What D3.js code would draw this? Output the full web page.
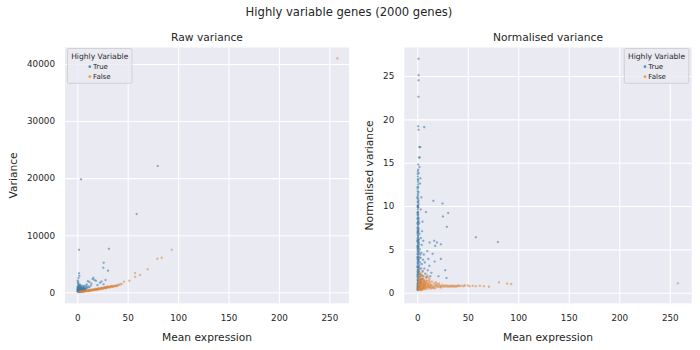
<!DOCTYPE html>
<html>
<head>
<meta charset="utf-8">
<script src="https://cdn.jsdelivr.net/npm/d3@7"></script>
<style>
  html, body { margin: 0; padding: 0; background: #ffffff; }
  svg { display: block; font-family: "DejaVu Sans", sans-serif; }
</style>
</head>
<body>
<svg id="chart" width="700" height="350"></svg>
<script>
// ---------------- DATA ----------------
const chartTitle = "Highly variable genes (2000 genes)";
const panelTitles = ["Raw variance", "Normalised variance"];
const xLabel = "Mean expression";
const yLabels = ["Variance", "Normalised variance"];
const legendTitle = "Highly Variable";
const legendLabels = ["True", "False"];
const seriesColors = ["#1f77b4", "#ff7f0e"];

const xTicks = [0, 50, 100, 150, 200, 250];
const yTicksRaw = [0, 10000, 20000, 30000, 40000];
const yTicksNorm = [0, 5, 10, 15, 20, 25];

// Raw variance, highly variable genes: [mean expression, variance]
const rawTrue = [
  [0.3,180],[0.5,250],[0.8,320],[1.0,210],[1.2,400],[1.5,290],[1.8,520],[2.0,350],[2.2,180],[2.5,610],
  [2.8,260],[3.0,430],[3.3,720],[3.5,310],[3.8,540],[4.0,200],[4.3,380],[4.6,650],[5.0,290],[5.3,470],
  [5.6,820],[6.0,350],[6.4,560],[6.8,260],[7.2,430],[7.6,700],[8.0,380],[0.4,560],[0.7,800],[0.9,1100],
  [1.1,1350],[0.6,1600],[1.3,950],[1.6,700],[2.1,880],[2.4,1050],[2.9,950],[3.6,880],[4.4,1000],[5.1,1150],
  [0.2,430],[0.3,700],[1.4,160],[1.9,230],[2.6,420],[3.1,180],[3.9,290],[4.8,450],[5.8,600],[6.6,780],
  [7.4,520],[8.5,640],[9.2,900],[10.0,760],[11.0,1020],[12.0,880],[13.5,1200],[9.5,1350],[0.5,120],[1.0,90],
  [1.6,140],[2.3,110],[3.4,130],[4.5,150],[5.5,170],[0.8,480],[1.7,380],[2.7,820],[3.2,560],[4.1,720],
  [6.2,900],[7.0,1050],[8.2,1180],[0.4,2050],[1.2,2500],[2.0,2900],[0.9,1850],
  [0.6,300],[1.3,600],[2.4,240],[3.7,470],[5.4,380],[6.9,620],[0.3,950],[1.5,1200],[2.2,1400],[3.0,1250],
  [15.2,2330],[17.0,2150],[18.5,2030],[22.5,1680],[28.0,2150],[24.0,1900],[20.0,1250],[14.0,1550],[12.0,1800],[26.0,1400],
  [16.0,2550],[10.5,1950],
  [30.5,3790],[25.8,4310],[26.2,5190],[31.4,7640],[1.7,7460],[1.7,3330],[3.7,19790],[58.9,13710],[79.8,22120]
];

// Raw variance, other genes: [mean expression, variance]
const rawFalse = [
  [1.5,40],[2.5,90],[3.2,70],[4.1,130],[5.0,120],[5.8,180],[6.5,150],[7.3,230],[8.0,200],[8.8,260],
  [9.5,240],[10.3,300],[11.0,270],[11.8,340],[12.5,310],[13.2,380],[14.0,360],[14.8,420],[15.5,400],[16.3,470],
  [17.0,440],[17.8,510],[18.5,480],[19.3,560],[20.0,530],[20.8,600],[21.5,580],[22.3,650],[23.0,620],[23.8,700],
  [24.5,670],[25.3,740],[26.0,720],[26.8,800],[27.5,770],[28.3,860],[29.0,830],[29.8,910],[30.5,880],[31.3,960],
  [32.0,940],[33.0,1020],[34.0,990],[35.0,1080],[36.0,1060],[37.0,1150],[38.0,1120],[39.5,1220],[41.0,1300],[42.5,1380],
  [44.0,1450],[3.5,160],[6.0,250],[9.0,330],[12.0,420],[15.0,500],[18.0,600],[21.0,700],[24.0,790],[27.0,900],
  [30.0,1000],[33.5,1120],[10.0,200],[14.0,280],[19.0,420],[23.0,540],[28.0,700],[32.5,850],[7.0,120],[11.5,230],
  [16.5,350],[20.5,470],[25.5,610],[29.5,760],[35.5,950],[38.5,1050],[40.0,1180],
  [46.3,1860],[51.6,2030],[57.5,2730],[62.2,3030],[57.2,3380],[69.8,4030],[79.4,5880],[83.7,6060],[93.6,7460],[258.0,40980]
];

// Normalised variance, highly variable genes: [mean expression, normalised variance]
const normTrue = [
  [0.2,0.4],[0.5,0.6],[0.8,0.9],[1.1,1.2],[0.3,1.5],[0.9,1.8],[1.4,2.1],[0.4,2.4],[1.0,2.7],[1.7,3.0],
  [0.6,3.3],[1.2,3.6],[0.3,3.9],[0.9,4.2],[1.5,4.5],[0.5,4.8],[1.1,5.1],[0.2,5.4],[0.8,5.7],[1.3,6.0],
  [0.4,6.3],[1.0,6.6],[0.6,6.9],[1.2,7.2],[0.3,7.5],[0.9,7.8],[0.5,8.1],[1.1,8.4],[0.7,8.7],[0.4,9.0],
  [1.0,9.3],[0.6,9.6],[0.8,9.9],[1.3,10.2],[0.5,10.5],[0.9,10.8],[0.7,11.2],[1.2,11.6],[0.4,12.0],[0.8,12.5],
  [1.0,13.0],[0.6,13.4],[1.4,13.8],[0.9,14.2],
  [1.8,0.8],[2.2,1.0],[2.6,1.3],[1.6,1.6],[2.0,1.9],[2.8,2.2],[1.9,2.5],[2.4,2.8],[3.1,1.1],[3.4,1.5],
  [2.1,3.2],[2.7,3.5],[1.6,3.8],[2.3,4.1],[3.0,4.4],[1.8,4.7],[2.5,5.0],[1.5,5.3],[2.0,5.6],[1.7,6.2],
  [2.2,6.8],[1.6,7.4],[1.9,8.0],[1.5,8.6],[0.2,1.0],[0.3,2.0],[0.2,3.0],[0.25,4.1],[0.3,5.0],[0.2,6.0],
  [0.3,7.0],[0.2,8.0],[0.25,9.2],[0.3,10.0],[0.2,11.0],[0.3,12.2],[0.7,0.5],[1.3,0.7],[0.5,1.3],[1.0,1.6],
  [0.7,2.2],[1.2,2.4],[0.5,2.9],[0.8,3.4],[1.3,4.0],[0.6,4.4],[1.0,4.9],[0.7,5.5],[1.4,5.8],[0.5,6.1],
  [0.9,6.4],[1.1,7.0],[0.7,7.6],[1.3,8.2],[0.8,8.9],[1.0,9.8],[1.2,10.6],[0.6,11.4],[1.0,12.2],[0.7,13.1],
  [0.4,0.8],[0.6,1.1],[0.3,1.8],[0.7,2.6],[0.4,3.1],[0.6,3.7],[0.3,4.5],[0.7,5.2],[0.4,5.9],[0.6,6.6],
  [0.4,7.2],[0.6,7.9],[0.3,8.5],[0.5,9.3],[0.7,10.1],[0.4,10.9],
  [0.5,0.3],[0.9,0.4],[0.3,0.7],[0.8,1.4],[0.4,2.1],[0.9,2.3],[0.5,2.6],[0.8,2.9],[0.4,3.5],[0.8,3.8],
  [0.5,4.1],[0.7,4.7],[0.4,5.2],[0.8,5.4],[0.6,5.8],[0.9,6.1],[0.4,6.8],[0.8,7.1],[0.5,7.4],[0.7,8.2],
  [0.5,8.6],[0.9,9.1],[0.6,9.9],[0.8,10.4],[0.5,11.7],[0.7,12.8],[0.6,14.0],[0.5,13.7],
  [3.5,1.2],[4.2,2.0],[5.0,1.6],[3.8,2.8],[4.6,3.3],[5.5,2.5],[6.2,1.9],[3.3,4.0],[4.0,4.6],[5.8,3.8],
  [7.0,2.8],[8.0,2.2],[6.5,4.4],[4.5,5.5],[3.6,6.3],[7.5,3.5],[9.0,1.8],[10.5,2.6],[12.3,5.8],[15.2,4.5],
  [16.8,6.0],[17.8,5.4],[19.5,5.8],[23.4,5.6],[17.2,3.6],[23.4,3.9],[27.7,2.6],[21.0,1.9],[29.0,1.7],[12.0,3.1],
  [14.0,2.3],[8.6,9.3],[16.0,10.6],[25.0,10.3],[30.7,9.2],[25.4,8.8],[29.3,7.6],[58.0,6.4],[79.8,5.85],[6.9,19.1],
  [3.0,16.8],[2.5,15.6],[3.2,13.2],[2.8,12.6],[4.1,11.0],[3.5,9.6],[5.2,8.2],[4.8,7.1],[6.0,6.0],[10.0,4.8],
  [11.0,3.9],[13.0,1.9],
  [1.3,27.0],[1.4,25.1],[1.3,24.5],[1.2,22.6],[1.0,19.2],[1.3,18.8],[2.0,16.8],[1.8,15.6],[1.0,14.8],[2.2,14.5]
];

// Normalised variance, other genes: [mean expression, normalised variance]
const normFalse = [
  [0.6,0.3],[1.0,0.5],[1.5,0.7],[2.0,0.4],[2.5,0.9],[3.0,0.6],[3.5,1.1],[4.0,0.8],[4.5,1.3],[5.0,0.5],
  [5.5,1.0],[6.0,0.7],[6.5,1.5],[7.0,0.9],[7.5,1.2],[8.0,0.6],[8.5,1.0],[9.0,0.8],[9.5,1.4],[10.0,0.7],
  [11.0,1.0],[12.0,0.8],[0.8,0.9],[1.2,1.2],[1.8,1.5],[2.2,1.8],[2.8,1.4],[3.3,1.7],[3.8,0.4],[4.3,0.6],
  [4.8,1.6],[5.3,1.9],[5.8,0.4],[6.3,1.1],[6.8,1.3],[7.3,0.5],[7.8,0.8],[8.3,1.3],[2.3,1.1],[1.6,0.3],
  [3.2,0.3],[4.6,0.3],[1.3,2.0],[2.6,2.2],[3.9,2.1],[5.1,2.4],[0.9,1.6],[1.4,0.9],[2.1,0.6],[2.9,1.0],
  [3.6,0.8],[4.1,1.0],[5.6,0.6],[6.1,0.9],[7.1,0.7],[9.3,1.1],[10.5,0.9],[11.5,0.7],[12.5,1.2],[13.0,0.7],
  [14.0,0.9],[15.0,0.8],[16.0,0.6],[17.0,0.75],[18.0,0.9],[19.0,0.7],[20.0,0.8],[21.0,0.65],[22.0,0.85],[23.0,0.7],
  [24.0,0.75],[25.0,0.9],[26.0,0.7],[27.0,0.8],[28.0,0.72],[29.0,0.85],[30.0,0.7],[31.0,0.78],[32.0,0.72],[33.0,0.8],
  [34.0,0.7],[35.0,0.82],[36.0,0.75],[37.0,0.7],[38.0,0.8],[39.0,0.72],[40.0,0.78],[41.0,0.85],[42.0,0.75],[44.0,0.8],
  [14.5,1.3],[16.5,1.1],[18.5,1.2],[13.5,0.5],[15.5,0.55],[17.5,0.5],[19.5,1.0],[21.5,1.05],[23.5,0.6],[12.2,1.6],
  [10.8,1.8],[11.7,1.4],[8.8,1.7],[9.8,2.0],[1.1,0.8],[1.7,1.0],[2.4,0.5],[3.1,1.3],[3.7,1.5],[4.4,0.4],
  [5.2,0.8],[5.9,1.3],[6.6,0.5],[7.6,1.0],[8.6,0.4],[9.6,0.6],[10.2,1.2],[11.2,0.5],[12.8,1.0],[13.8,0.6],
  [1.9,1.2],[2.7,0.7],[3.4,0.5],[4.2,1.5],[4.9,1.1],[5.7,1.6],[6.4,0.8],[7.2,1.4],[2.0,2.6],[3.0,1.9],
  [46.0,0.75],[47.0,0.85],[50.0,0.82],[52.0,0.75],[55.0,0.8],[58.0,0.75],[62.0,0.8],[66.0,0.75],[71.0,0.7],[81.0,1.2],
  [89.0,1.05],[93.0,1.0],[258.0,1.08]
];

// ---------------- LAYOUT ----------------
const svg = d3.select("#chart");
const textColor = "#262626";
const bg = "#EAEAF2";

const panels = [
  { left: 65, right: 349, top: 47.5, bottom: 303.3,
    xDomain: [-12.2, 269.5], yDomain: [-1927, 42890], yTicks: yTicksRaw,
    series: [rawTrue, rawFalse], title: panelTitles[0], ylabel: yLabels[0], ylabelX: 17,
    legend: { x: 67.5, y: 48.5, w: 64.5, h: 34.8, markerX: 89.8, textX: 93 } },
  { left: 404.3, right: 691.7, top: 47.5, bottom: 303.3,
    xDomain: [-12.8, 271.7], yDomain: [-1.22, 28.29], yTicks: yTicksNorm,
    series: [normTrue, normFalse], title: panelTitles[1], ylabel: yLabels[1], ylabelX: 373,
    legend: { x: 624.3, y: 48.5, w: 64.5, h: 34.8, markerX: 645, textX: 648.3 } }
];

svg.append("rect").attr("width", 700).attr("height", 350).attr("fill", "#ffffff");

svg.append("text")
  .attr("x", 349).attr("y", 15.7)
  .attr("text-anchor", "middle")
  .attr("font-size", 11.6).attr("fill", textColor)
  .text(chartTitle);

panels.forEach(p => {
  const x = d3.scaleLinear().domain(p.xDomain).range([p.left, p.right]);
  const y = d3.scaleLinear().domain(p.yDomain).range([p.bottom, p.top]);
  const w = p.right - p.left, h = p.bottom - p.top;

  svg.append("rect")
    .attr("x", p.left).attr("y", p.top).attr("width", w).attr("height", h)
    .attr("fill", bg);

  const gx = svg.append("g")
    .attr("transform", `translate(0,${p.bottom})`)
    .call(d3.axisBottom(x).tickValues(xTicks).tickSize(-h).tickPadding(11.2).tickFormat(d3.format("d")));
  const gy = svg.append("g")
    .attr("transform", `translate(${p.left},0)`)
    .call(d3.axisLeft(y).tickValues(p.yTicks).tickSize(-w).tickPadding(10).tickFormat(d3.format("d")));
  [gx, gy].forEach(g => {
    g.select(".domain").remove();
    g.selectAll(".tick line").attr("stroke", "#ffffff").attr("stroke-width", 1.1);
    g.selectAll(".tick text").attr("fill", textColor).attr("font-size", 8.8)
      .attr("font-family", "DejaVu Sans, sans-serif");
  });

  const clipId = "clip" + Math.round(p.left);
  svg.append("clipPath").attr("id", clipId).append("rect")
    .attr("x", p.left).attr("y", p.top).attr("width", w).attr("height", h);
  const gp = svg.append("g").attr("clip-path", `url(#${clipId})`);
  p.series.forEach((data, i) => {
    gp.append("g").selectAll("circle").data(data).join("circle")
      .attr("cx", d => x(d[0])).attr("cy", d => y(d[1]))
      .attr("r", 1.05)
      .attr("fill", seriesColors[i]).attr("fill-opacity", 0.55)
      .attr("stroke", "#8a8a95").attr("stroke-opacity", 0.35).attr("stroke-width", 0.4);
  });

  // titles & labels
  svg.append("text")
    .attr("x", (p.left + p.right) / 2).attr("y", 41)
    .attr("text-anchor", "middle").attr("font-size", 10.7).attr("fill", textColor)
    .text(p.title);
  svg.append("text")
    .attr("x", (p.left + p.right) / 2).attr("y", 340.7)
    .attr("text-anchor", "middle").attr("font-size", 10.7).attr("fill", textColor)
    .text(xLabel);
  svg.append("text")
    .attr("transform", `translate(${p.ylabelX},${(p.top + p.bottom) / 2}) rotate(-90)`)
    .attr("text-anchor", "middle").attr("font-size", 10.7).attr("fill", textColor)
    .text(p.ylabel);

  // legend
  const L = p.legend;
  const lg = svg.append("g");
  lg.append("rect")
    .attr("x", L.x).attr("y", L.y).attr("width", L.w).attr("height", L.h)
    .attr("rx", 1.5).attr("fill", "#EAEAF2").attr("fill-opacity", 0.8)
    .attr("stroke", "#cccccc").attr("stroke-width", 0.8);
  lg.append("text")
    .attr("x", L.x + L.w / 2).attr("y", L.y + 10.3)
    .attr("text-anchor", "middle").attr("font-size", 7.6).attr("fill", textColor)
    .text(legendTitle);
  legendLabels.forEach((lab, i) => {
    const cy = L.y + 18.2 + i * 10;
    lg.append("circle").attr("cx", L.markerX).attr("cy", cy).attr("r", 1.4)
      .attr("fill", seriesColors[i]).attr("fill-opacity", 0.75);
    lg.append("text").attr("x", L.textX).attr("y", cy + 2.5)
      .attr("font-size", 7).attr("fill", textColor).text(lab);
  });
});
</script>
</body>
</html>
